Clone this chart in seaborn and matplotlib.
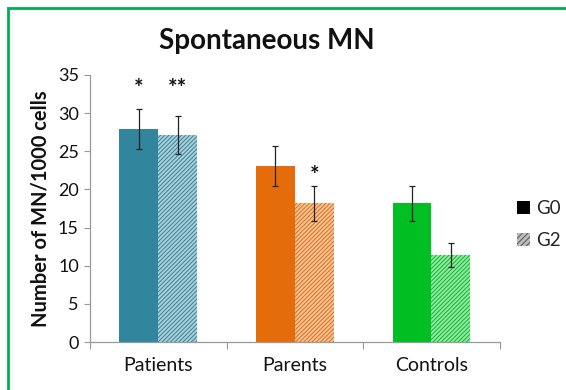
import matplotlib
matplotlib.use("Agg")
import matplotlib.pyplot as plt
from matplotlib.patches import Patch, Rectangle
import seaborn as sns
import pandas as pd

# Data
categories = ["Patients", "Parents", "Controls"]
groups = ["G0", "G2"]
g0_values = [27.9, 23.1, 18.2]
g2_values = [27.1, 18.2, 11.4]
g0_errors = [2.6, 2.6, 2.3]
g2_errors = [2.5, 2.3, 1.6]
g0_marks = ["*", "", ""]
g2_marks = ["**", "*", ""]
category_colors = ["#31859C", "#E46C0A", "#00BF23"]

rows = []
for i, cat in enumerate(categories):
    rows.append({"Group": cat, "Gen": "G0", "MN": g0_values[i], "err": g0_errors[i], "mark": g0_marks[i]})
    rows.append({"Group": cat, "Gen": "G2", "MN": g2_values[i], "err": g2_errors[i], "mark": g2_marks[i]})
df = pd.DataFrame(rows)

sns.set_theme(style="white")
plt.rcParams["font.family"] = ["Lato", "DejaVu Sans"]
plt.rcParams["hatch.linewidth"] = 0.7

fig = plt.figure(figsize=(5.66, 3.90), dpi=100)
ax = fig.add_axes([0.159, 0.123, 0.724, 0.685])

sns.barplot(data=df, x="Group", y="MN", hue="Gen", order=categories,
            hue_order=groups, width=0.57, errorbar=None, legend=False,
            palette=["#000000", "#888888"], ax=ax, saturation=1)

# Recolour bars per category; G2 bars are hatched
bars_g0 = ax.containers[0]
bars_g2 = ax.containers[1]
for i, (b0, b2) in enumerate(zip(bars_g0, bars_g2)):
    c = category_colors[i]
    b0.set_facecolor(c)
    b0.set_edgecolor(c)
    b0.set_linewidth(0)
    b2.set_facecolor(matplotlib.colors.to_rgba(c, 0.4))
    b2.set_edgecolor(c)
    b2.set_linewidth(0)
    b2.set_hatch("////////")

# Error bars and significance marks
for container, gen in zip([bars_g0, bars_g2], groups):
    sub = df[df["Gen"] == gen].reset_index(drop=True)
    for bar, (_, r) in zip(container, sub.iterrows()):
        xc = bar.get_x() + bar.get_width() / 2
        ax.errorbar(xc, r["MN"], yerr=r["err"], fmt="none", ecolor="#222222",
                    elinewidth=0.9, capsize=2.5, capthick=0.9)
        if r["mark"]:
            top = r["MN"] + r["err"]
            y = 33.2 if r["Group"] == "Patients" else top + 1.3
            ax.text(xc, y, r["mark"], ha="center", va="center",
                    fontsize=16, fontweight="bold", color="#111111")

ax.set_xlim(-0.5, 2.5)
ax.set_ylim(0, 35)
ax.set_yticks(range(0, 36, 5))
ax.set_xlabel("")
ax.set_ylabel("Number of MN/1000 cells", fontsize=14.5, fontweight="bold",
              color="#111111", labelpad=5)
ax.tick_params(axis="y", labelsize=13, colors="#111111", length=4, width=0.8,
               left=True, direction="out", pad=4)
ax.tick_params(axis="x", labelsize=14, colors="#111111", length=0, pad=11)
ax.set_xticks([-0.5, 0.5, 1.5, 2.5], minor=True)
ax.tick_params(axis="x", which="minor", length=5, width=0.8, bottom=True,
               color="#999999", direction="out")
ax.yaxis.set_tick_params(color="#999999")

for side in ["top", "right"]:
    ax.spines[side].set_visible(False)
for side in ["left", "bottom"]:
    ax.spines[side].set_color("#999999")
    ax.spines[side].set_linewidth(0.9)

fig.text(0.472, 0.895, "Spontaneous MN", ha="center", va="center",
         fontsize=20, fontweight="bold", color="#111111")

handles = [Patch(facecolor="#000000", edgecolor="#000000", linewidth=0),
           Patch(facecolor="#BBBBBB", edgecolor="#555555", hatch="//////", linewidth=0)]
fig.legend(handles, groups, loc="center left", bbox_to_anchor=(0.9, 0.425),
           frameon=False, fontsize=13.5, handlelength=0.7, handleheight=0.7,
           handletextpad=0.3, labelspacing=0.8, borderaxespad=0)

# Outer green frame
fig.patches.append(Rectangle((8 / 566, -0.05), 1.2, 1.05 - 8 / 390,
                             transform=fig.transFigure, fill=False,
                             edgecolor="#00B050", linewidth=2.0))

fig.savefig("out.png", dpi=100)
